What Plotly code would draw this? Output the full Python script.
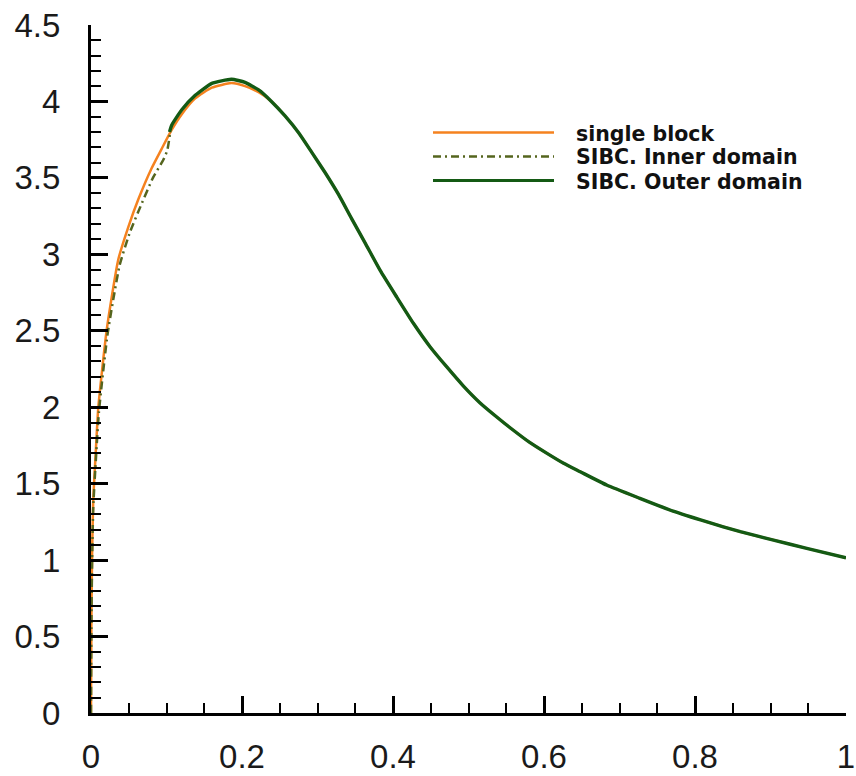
import plotly.graph_objects as go

# ---- data ----
single_x = [0, 0.0005, 0.0015, 0.003, 0.006, 0.0097, 0.0208, 0.036, 0.0495, 0.0627, 0.080,
            0.0936, 0.107, 0.120, 0.138, 0.160, 0.186, 0.204, 0.222, 0.239, 0.257, 0.275,
            0.292, 0.310, 0.328, 0.345, 0.363, 0.383, 0.405, 0.427, 0.449, 0.471, 0.493,
            0.515, 0.537, 0.559, 0.581, 0.604, 0.626, 0.648, 0.683, 0.727, 0.771, 0.815,
            0.860, 0.904, 0.948, 1.0]
single_y = [0, 0.6, 1.05, 1.4, 1.68, 2.0, 2.505, 2.963, 3.18, 3.36, 3.56,
            3.69, 3.815, 3.915, 4.02, 4.09, 4.12, 4.10, 4.06, 4.0, 3.905, 3.795,
            3.67, 3.535, 3.39, 3.235, 3.075, 2.895, 2.72, 2.549, 2.396, 2.265, 2.14,
            2.03, 1.938, 1.851, 1.770, 1.698, 1.633, 1.578, 1.491, 1.404, 1.320, 1.251,
            1.186, 1.131, 1.077, 1.015]

inner_x = [0, 0.0005, 0.0015, 0.003, 0.006, 0.0105, 0.022, 0.038, 0.052, 0.067, 0.082,
           0.096, 0.101, 0.105]
inner_y = [0, 0.55, 1.0, 1.35, 1.62, 1.97, 2.48, 2.93, 3.15, 3.33, 3.50,
           3.62, 3.68, 3.80]

outer_x = [0.104, 0.107, 0.120, 0.138, 0.160, 0.186, 0.204, 0.222, 0.239, 0.257, 0.275,
           0.292, 0.310, 0.328, 0.345, 0.363, 0.383, 0.405, 0.427, 0.449, 0.471, 0.493,
           0.515, 0.537, 0.559, 0.581, 0.604, 0.626, 0.648, 0.683, 0.727, 0.771, 0.815,
           0.860, 0.904, 0.948, 1.0]
outer_y = [3.80, 3.846, 3.944, 4.04, 4.118, 4.145, 4.125, 4.075, 4.0, 3.905, 3.795,
           3.67, 3.535, 3.39, 3.235, 3.075, 2.895, 2.72, 2.549, 2.396, 2.265, 2.14,
           2.03, 1.938, 1.851, 1.770, 1.698, 1.633, 1.578, 1.491, 1.404, 1.320, 1.251,
           1.186, 1.131, 1.077, 1.015]

x_tickvals = [0, 0.2, 0.4, 0.6, 0.8, 1.0]
x_ticktext = ["0", "0.2", "0.4", "0.6", "0.8", "1"]
y_tickvals = [0, 0.5, 1, 1.5, 2, 2.5, 3, 3.5, 4, 4.5]
y_ticktext = ["0", "0.5", "1", "1.5", "2", "2.5", "3", "3.5", "4", "4.5"]

names = ["single block", "SIBC. Inner domain", "SIBC. Outer domain"]
colors = ["#F5821F", "#55651E", "#145A14"]
dashes = ["solid", "8px,4px,2px,4px", "solid"]
widths = [2.5, 2.5, 3.4]

fig = go.Figure()
for (xs, ys), name, c, d, w in zip(
        [(single_x, single_y), (inner_x, inner_y), (outer_x, outer_y)],
        names, colors, dashes, widths):
    fig.add_trace(go.Scatter(x=xs, y=ys, mode="lines", name=name,
                             line=dict(color=c, dash=d, width=w, shape="spline", smoothing=0.5),
                             showlegend=False))

tickfont = dict(family="Liberation Sans, Arial, sans-serif", size=33, color="#1a1a1a")
fig.update_xaxes(range=[0, 1], tickvals=x_tickvals, ticktext=x_ticktext, automargin=False,
                 showgrid=False, zeroline=False, showline=True, linecolor="black", linewidth=3,
                 ticks="inside", ticklen=17, tickwidth=3, tickcolor="black",
                 minor=dict(ticks="inside", ticklen=10, tickwidth=2, tickcolor="black", dtick=0.05,
                            showgrid=False),
                 tickfont=tickfont, ticklabelstandoff=12)
fig.update_yaxes(range=[0, 4.5], tickvals=y_tickvals, ticktext=y_ticktext, automargin=False,
                 showgrid=False, zeroline=False, showline=True, linecolor="black", linewidth=3,
                 ticks="inside", ticklen=17, tickwidth=3, tickcolor="black",
                 minor=dict(ticks="inside", ticklen=10, tickwidth=2, tickcolor="black", dtick=0.1,
                            showgrid=False),
                 tickfont=tickfont, ticklabelstandoff=21)

# ---- manual legend ----
plot_l, plot_t, plot_w, plot_h = 91, 25, 755, 688
def px2paper_x(px):
    return (px - plot_l) / plot_w
def px2paper_y(py):
    return (plot_t + plot_h - py) / plot_h

row_y = [132.5, 156.5, 180.5]
for name, c, d, w, ry in zip(names, colors, dashes, widths, row_y):
    fig.add_shape(type="line", xref="paper", yref="paper",
                  x0=px2paper_x(433), x1=px2paper_x(554),
                  y0=px2paper_y(ry), y1=px2paper_y(ry),
                  line=dict(color=c, dash=d, width=min(w, 3)))
    fig.add_annotation(xref="paper", yref="paper", x=px2paper_x(574), y=px2paper_y(ry + 1),
                       xanchor="left", yanchor="middle", showarrow=False, text=name,
                       font=dict(family="DejaVu Sans", size=20.5, color="#111111", weight="bold"))

fig.update_layout(width=856, height=776,
                  margin=dict(l=plot_l, r=856 - plot_l - plot_w, t=plot_t, b=776 - plot_t - plot_h),
                  paper_bgcolor="white", plot_bgcolor="white")

fig.write_html("out.html", config={"displayModeBar": False},
               post_script="document.body.style.margin='0';document.body.style.padding='0';"
                           "document.documentElement.style.overflow='hidden';")
